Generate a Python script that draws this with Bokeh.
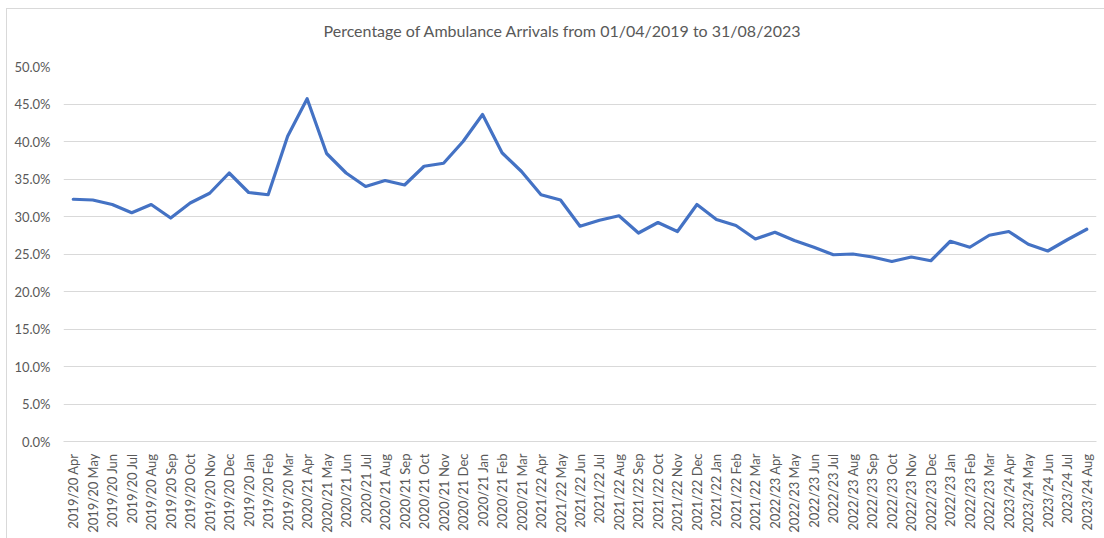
import math
from bokeh.plotting import figure
from bokeh.models import FactorRange, Range1d, PrintfTickFormatter, FixedTicker, Title
from bokeh.embed import file_html
from bokeh.resources import INLINE

# Monthly share of arrivals by ambulance, financial-year month labels
years = ["2019/20"] * 12 + ["2020/21"] * 12 + ["2021/22"] * 12 + ["2022/23"] * 12 + ["2023/24"] * 5
months = (["Apr", "May", "Jun", "Jul", "Aug", "Sep", "Oct", "Nov", "Dec", "Jan", "Feb", "Mar"] * 4
          + ["Apr", "May", "Jun", "Jul", "Aug"])
periods = [f"{y} {m}" for y, m in zip(years, months)]

pct_ambulance = [
    32.3, 32.2, 31.6, 30.5, 31.6, 29.8, 31.8, 33.1, 35.8, 33.2, 32.9, 40.7,
    45.7, 38.4, 35.8, 34.0, 34.8, 34.2, 36.7, 37.1, 40.0, 43.6, 38.5, 36.0,
    32.9, 32.2, 28.7, 29.5, 30.1, 27.8, 29.2, 28.0, 31.6, 29.6, 28.8, 27.0,
    27.9, 26.8, 25.9, 24.9, 25.0, 24.6, 24.0, 24.6, 24.1, 26.7, 25.9, 27.5,
    28.0, 26.3, 25.4, 26.9, 28.3,
]

y_ticks = [0, 5, 10, 15, 20, 25, 30, 35, 40, 45, 50]

FONT = "Lato"
GREY_TEXT = "#595959"
GRID = "#d9d9d9"

# chart area sits 6px in from the left and 8px down from the top, with a thin border
W, H = 1098, 530
FRAME_LEFT, FRAME_TOP, FRAME_BOTTOM, FRAME_RIGHT = 56, 57, 432, 1089

p = figure(
    width=W, height=H,
    x_range=FactorRange(*periods, range_padding=0),
    y_range=Range1d(0, 50),
    output_backend="svg", toolbar_location=None,
    title="Percentage of Ambulance Arrivals from 01/04/2019 to 31/08/2023",
    min_border_left=FRAME_LEFT, min_border_right=W - FRAME_RIGHT,
    min_border_top=FRAME_TOP, min_border_bottom=H - FRAME_BOTTOM,
)
p.styles = {
    "margin-left": "6px",
    "margin-top": "8px",
    "border-left": f"1px solid {GRID}",
    "border-top": f"1px solid {GRID}",
}
p.outline_line_color = None
p.background_fill_color = "white"
p.border_fill_color = "white"

p.title.align = "left"
p.title.offset = 260
p.title.text_font = FONT
p.title.text_font_size = "16px"
p.title.text_font_style = "normal"
p.title.text_color = GREY_TEXT
p.title.standoff = 0

# blank band between the title and the plot area
p.add_layout(Title(text=" ", text_font=FONT, text_font_size="16px", standoff=6), "above")

p.line(periods, pct_ambulance, line_color="#4472C4", line_width=3.2, line_join="round", line_cap="round")

# y axis
p.yaxis.ticker = FixedTicker(ticks=y_ticks)
p.yaxis.formatter = PrintfTickFormatter(format="%.1f%%")
p.yaxis.axis_line_color = None
p.yaxis.major_tick_line_color = None
p.yaxis.minor_tick_line_color = None
p.yaxis.major_label_standoff = 7
p.yaxis.major_label_text_font = FONT
p.yaxis.major_label_text_font_size = "13px"
p.yaxis.major_label_text_color = GREY_TEXT

# x axis
p.xaxis.axis_line_color = GRID
p.xaxis.major_tick_line_color = None
p.xaxis.major_label_orientation = math.pi / 2
p.xaxis.major_label_standoff = 6
p.xaxis.major_label_text_font = FONT
p.xaxis.major_label_text_font_size = "13px"
p.xaxis.major_label_text_color = GREY_TEXT

p.xgrid.grid_line_color = None
p.ygrid.grid_line_color = GRID
p.ygrid.grid_line_width = 1

open("out.html", "w").write(file_html(p, INLINE))
